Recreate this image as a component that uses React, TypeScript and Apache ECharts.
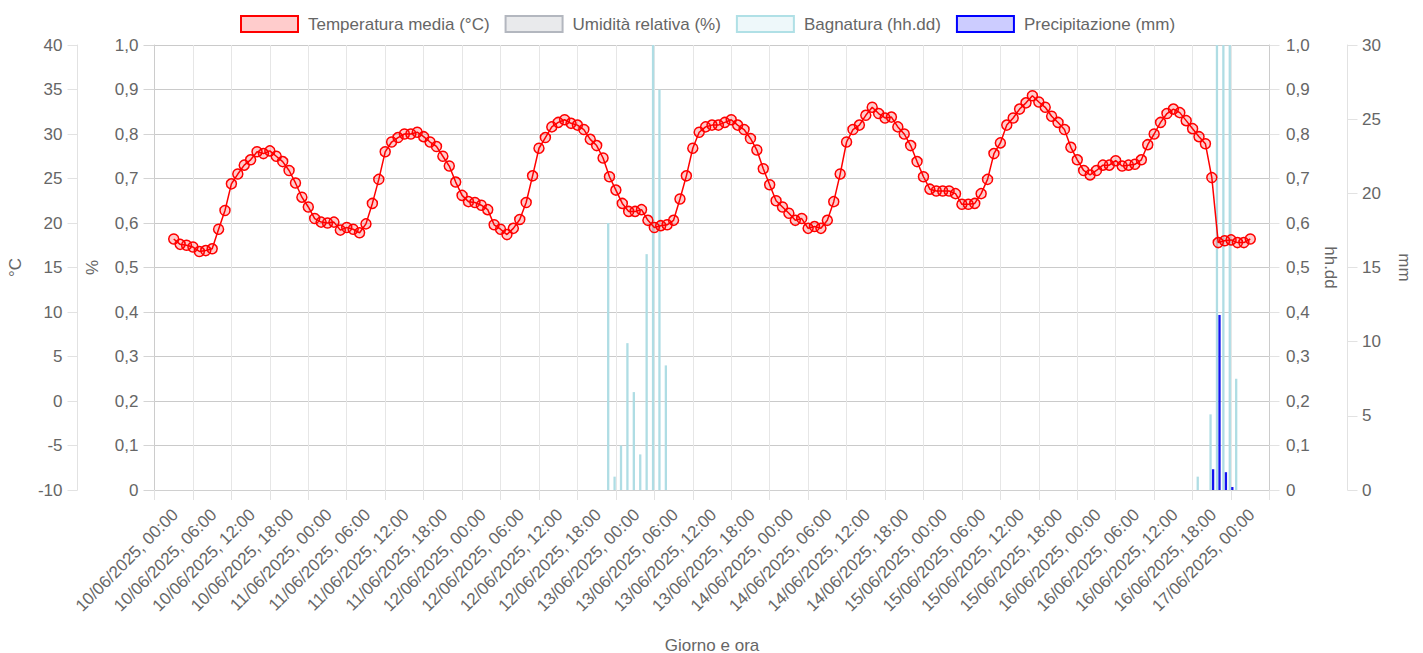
import React, { useEffect, useRef } from "react";
import * as echarts from "echarts";

// ---------- DATA ----------
const axisStart = "10/06/2025 00:00";
const axisEnd = "17/06/2025 06:00";
const tickHours = 6;

// Temperatura media (°C), hourly from 10/06/2025 03:00 to 17/06/2025 03:00
const temperaturaStart = "10/06/2025 03:00";
const temperatura = [
  18.2, 17.6, 17.5, 17.3, 16.8, 16.9, 17.1, 19.3, 21.4, 24.4, 25.5, 26.5, 27.1, 28.0, 27.8, 28.1,
  27.5, 26.9, 25.9, 24.5, 22.9, 21.8, 20.5, 20.1, 20.0, 20.1, 19.2, 19.5, 19.3, 18.9, 19.9, 22.2,
  24.9, 28.0, 29.1, 29.6, 30.0, 30.0, 30.2, 29.7, 29.1, 28.6, 27.5, 26.4, 24.6, 23.1, 22.4, 22.3,
  22.0, 21.5, 19.8, 19.3, 18.7, 19.4, 20.4, 22.3, 25.3, 28.4, 29.6, 30.8, 31.3, 31.6, 31.2, 31.0,
  30.5, 29.4, 28.7, 27.3, 25.2, 23.7, 22.2, 21.3, 21.3, 21.5, 20.3, 19.5, 19.7, 19.8, 20.3, 22.7,
  25.3, 28.4, 30.2, 30.8, 31.0, 31.0, 31.3, 31.6, 31.0, 30.5, 29.5, 28.2, 26.1, 24.3, 22.5, 21.8,
  21.1, 20.3, 20.5, 19.4, 19.6, 19.4, 20.3, 22.4, 25.5, 29.1, 30.5, 31.0, 32.1, 33.0, 32.3, 31.8,
  31.9, 30.8, 30.0, 28.7, 26.9, 25.2, 23.8, 23.6, 23.6, 23.6, 23.3, 22.1, 22.1, 22.2, 23.3, 24.9,
  27.8, 29.0, 31.0, 31.8, 32.8, 33.5, 34.3, 33.6, 33.0, 32.0, 31.3, 30.5, 28.5, 27.1, 25.9, 25.4,
  25.9, 26.5, 26.5, 27.0, 26.4, 26.5, 26.6, 27.1, 28.8, 30.0, 31.3, 32.3, 32.8, 32.4, 31.5, 30.6,
  29.7, 28.9, 25.1, 17.8, 18.0, 18.1, 17.8, 17.8, 18.2,
];

// Umidità relativa (%): no visible points in the plotted range
const umiditaTimes: string[] = [];
const umidita: number[] = [];

// Bagnatura (hh.dd)
const bagnaturaTimes = [
  "12/06/2025 23:00", "13/06/2025 00:00", "13/06/2025 01:00", "13/06/2025 02:00",
  "13/06/2025 03:00", "13/06/2025 04:00", "13/06/2025 05:00", "13/06/2025 06:00",
  "13/06/2025 07:00", "13/06/2025 08:00", "16/06/2025 19:00", "16/06/2025 21:00",
  "16/06/2025 22:00", "16/06/2025 23:00", "17/06/2025 00:00", "17/06/2025 01:00",
];
const bagnatura = [0.6, 0.03, 0.1, 0.33, 0.22, 0.08, 0.53, 1.0, 0.9, 0.28, 0.03, 0.17, 1.0, 1.0, 1.0, 0.25];

// Precipitazione (mm)
const precipitazioneTimes = ["16/06/2025 21:00", "16/06/2025 22:00", "16/06/2025 23:00", "17/06/2025 00:00"];
const precipitazione = [1.4, 11.8, 1.2, 0.2];

// Axis ticks
const tempTicks = { min: -10, max: 40, step: 5 };
const pctTicks = { min: 0, max: 1, step: 0.1 };
const bagnTicks = { min: 0, max: 1, step: 0.1 };
const mmTicks = { min: 0, max: 30, step: 5 };

// ---------- HELPERS ----------
const HOUR = 3600 * 1000;
function parseTime(s: string): number {
  const [d, t] = s.split(" ");
  const [dd, mm, yyyy] = d.split("/").map(Number);
  const [hh, mi] = t.split(":").map(Number);
  return Date.UTC(yyyy, mm - 1, dd, hh, mi);
}
const pad = (n: number) => String(n).padStart(2, "0");
function fmtTime(ms: number): string {
  const d = new Date(ms);
  return `${pad(d.getUTCDate())}/${pad(d.getUTCMonth() + 1)}/${d.getUTCFullYear()}, ${pad(
    d.getUTCHours()
  )}:${pad(d.getUTCMinutes())}`;
}
const comma = (v: number) => (v === 0 ? "0" : v.toFixed(1).replace(".", ","));

const FONT = "Arial, 'Liberation Sans', Helvetica, sans-serif";
const TXT = "#666666";

export default function App() {
  const ref = useRef<HTMLDivElement>(null);
  useEffect(() => {
    if (!ref.current) return;
    const chart = echarts.init(ref.current, undefined, { renderer: "svg" });
    const xMin = parseTime(axisStart);
    const xMax = parseTime(axisEnd);
    const t0 = parseTime(temperaturaStart);
    const tempData = temperatura.map((v, i) => [t0 + i * HOUR, v]);
    const umData = umidita.map((v, i) => [parseTime(umiditaTimes[i]), v]);
    const bagData = bagnatura.map((v, i) => [parseTime(bagnaturaTimes[i]), v]);
    const preData = precipitazione.map((v, i) => [parseTime(precipitazioneTimes[i]), v]);

    const yBase = (o: any) => ({
      type: "value",
      axisLabel: { color: TXT, fontSize: 17, fontFamily: FONT },
      nameLocation: "middle",
      nameTextStyle: { color: TXT, fontSize: 17, fontFamily: FONT },
      axisTick: { show: true, length: 10, lineStyle: { color: "#e2e2e2" } },
      axisLine: { show: true, lineStyle: { color: "#e2e2e2" } },
      splitLine: { show: false },
      ...o,
    });

    const option: any = {
      animation: false,
      textStyle: { fontFamily: FONT },
      legend: {
        top: 10,
        left: 235,
        itemWidth: 57,
        itemHeight: 16,
        itemGap: 15,
        textStyle: { color: TXT, fontSize: 17, fontFamily: FONT, padding: [0, 0, 0, 5] },
        data: [
          { name: "Temperatura media (°C)", icon: "rect", itemStyle: { color: "rgba(255,0,0,0.2)", borderColor: "rgb(255,0,0)", borderWidth: 2 } },
          { name: "Umidità relativa (%)", icon: "rect", itemStyle: { color: "#e9eaec", borderColor: "#b3b7bf", borderWidth: 2 } },
          { name: "Bagnatura (hh.dd)", icon: "rect", itemStyle: { color: "#eef8fa", borderColor: "#b0e0e6", borderWidth: 2 } },
          { name: "Precipitazione (mm)", icon: "rect", itemStyle: { color: "#ccccff", borderColor: "#0000ff", borderWidth: 2 } },
        ],
      },
      grid: {
        left: 154.5,
        right: 153.5,
        top: 45,
        bottom: 163,
        containLabel: false,
        outerBoundsMode: "none",
      },
      xAxis: {
        type: "value",
        min: xMin,
        max: xMax,
        interval: tickHours * HOUR,
        name: "Giorno e ora",
        nameLocation: "middle",
        nameGap: 146.5,
        nameTextStyle: { color: TXT, fontSize: 17, fontFamily: FONT },
        axisLine: { show: true, onZero: false, lineStyle: { color: "#d0d0d0" } },
        axisTick: { show: true, length: 10, lineStyle: { color: "#e2e2e2" } },
        splitLine: { show: true, lineStyle: { color: "#e6e6e6" } },
        axisLabel: {
          color: TXT,
          fontSize: 17,
          fontFamily: FONT,
          rotate: 45,
          margin: 1,
          align: "right",
          verticalAlign: "top",
          padding: [21, 0, 0, 0],
          formatter: (v: number) => (v >= xMax ? "" : fmtTime(v)),
        },
      },
      yAxis: [
        yBase({
          position: "left",
          offset: 0,
          min: pctTicks.min,
          max: pctTicks.max,
          interval: pctTicks.step,
          name: "%",
          nameGap: 53.5,
          nameRotate: 90,
          axisLabel: { color: TXT, fontSize: 17, fontFamily: FONT, margin: 16, formatter: comma },
          axisLine: { show: true, lineStyle: { color: "#cccccc" } },
          axisTick: { show: true, length: 11, lineStyle: { color: "#d4d4d4" } },
          splitLine: { show: true, lineStyle: { color: "#cacaca" } },
        }),
        yBase({
          position: "left",
          offset: 77,
          min: tempTicks.min,
          max: tempTicks.max,
          interval: tempTicks.step,
          name: "°C",
          nameGap: 54,
          nameRotate: 90,
          axisLabel: { color: TXT, fontSize: 17, fontFamily: FONT, margin: 15 },
        }),
        yBase({
          position: "right",
          offset: 0,
          min: bagnTicks.min,
          max: bagnTicks.max,
          interval: bagnTicks.step,
          name: "hh.dd",
          nameGap: 52.5,
          nameRotate: -90,
          axisLabel: { color: TXT, fontSize: 17, fontFamily: FONT, margin: 16.5, formatter: comma },
          axisLine: { show: true, lineStyle: { color: "#cccccc" } },
        }),
        yBase({
          position: "right",
          offset: 78,
          min: mmTicks.min,
          max: mmTicks.max,
          interval: mmTicks.step,
          name: "mm",
          nameGap: 48,
          nameRotate: -90,
          axisLabel: { color: TXT, fontSize: 17, fontFamily: FONT, margin: 14.5 },
        }),
      ],
      series: [
        {
          name: "Temperatura media (°C)",
          type: "line",
          yAxisIndex: 1,
          data: tempData,
          symbol: "circle",
          symbolSize: 10,
          showSymbol: true,
          z: 5,
          itemStyle: { color: "rgba(255,0,0,0.2)", borderColor: "rgb(255,0,0)", borderWidth: 1.5 },
          lineStyle: { color: "rgb(255,0,0)", width: 1.5 },
          emphasis: { disabled: true },
        },
        {
          name: "Umidità relativa (%)",
          type: "line",
          yAxisIndex: 0,
          data: umData,
          itemStyle: { color: "#e9eaec", borderColor: "#b3b7bf" },
          lineStyle: { color: "#b3b7bf" },
        },
        {
          name: "Bagnatura (hh.dd)",
          type: "bar",
          yAxisIndex: 2,
          data: bagData,
          barWidth: 2.3,
          barGap: "11%",
          itemStyle: { color: "#afdde4" },
          emphasis: { disabled: true },
        },
        {
          name: "Precipitazione (mm)",
          type: "bar",
          yAxisIndex: 3,
          data: preData,
          barWidth: 2.3,
          barGap: "11%",
          itemStyle: { color: "#1414f0" },
          emphasis: { disabled: true },
        },
      ],
    };
    chart.setOption(option);
    return () => chart.dispose();
  }, []);
  return (
    <div
      ref={ref}
      style={{ position: "absolute", left: 0, top: 0, width: 1423, height: 653, background: "#fff" }}
    />
  );
}
